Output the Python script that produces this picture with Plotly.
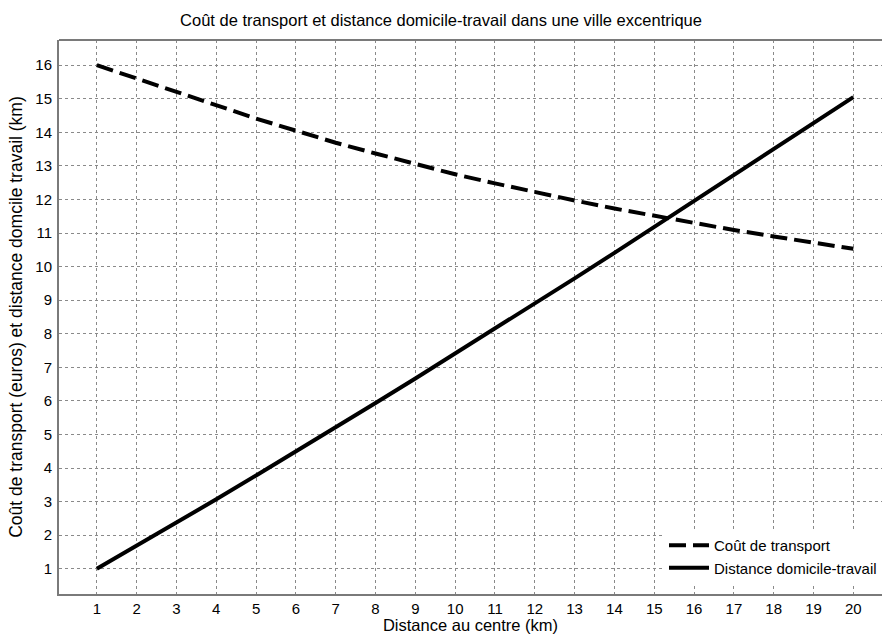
import plotly.graph_objects as go

distance_centre = list(range(1, 21))
cout_transport = [16.0, 15.60, 15.18, 14.79, 14.41, 14.05, 13.69, 13.37, 13.05, 12.75,
                  12.48, 12.21, 11.97, 11.73, 11.51, 11.29, 11.09, 10.90, 10.71, 10.53]
distance_domicile_travail = [1.00, 1.68, 2.37, 3.07, 3.78, 4.49, 5.21, 5.94, 6.67, 7.41,
                             8.15, 8.90, 9.65, 10.41, 11.18, 11.95, 12.72, 13.49, 14.27, 15.05]

FONT = "Liberation Sans, Arial, Helvetica, sans-serif"

fig = go.Figure()
fig.add_trace(go.Scatter(
    x=distance_centre, y=cout_transport, mode="lines", name="Coût de transport",
    line=dict(color="black", width=4, dash="17px,7px"),
))
fig.add_trace(go.Scatter(
    x=distance_centre, y=distance_domicile_travail, mode="lines", name="Distance domicile-travail",
    line=dict(color="black", width=4),
))

grid = dict(showgrid=True, gridcolor="#8a8a8a", griddash="dot", gridwidth=1,
            showline=True, linecolor="#7a7a7a", linewidth=2, zeroline=False,
            tickfont=dict(family=FONT, size=15, color="black"), ticks="")

fig.update_layout(
    width=882, height=634,
    margin=dict(l=59, r=0, t=40, b=40),
    paper_bgcolor="white", plot_bgcolor="white",
    font=dict(family=FONT, color="black"),
    title=dict(text="Coût de transport et distance domicile-travail dans une ville excentrique",
               x=0.5, xanchor="center", y=1 - 20 / 634, yanchor="middle", yref="container",
               font=dict(family=FONT, size=16.5, color="black")),
    xaxis=dict(range=[0.05, 20.72], tickmode="array", tickvals=distance_centre,
               title=dict(text="Distance au centre (km)", font=dict(family=FONT, size=16.5), standoff=4),
               mirror=False, **grid),
    yaxis=dict(range=[0.25, 16.75], tickmode="array", tickvals=list(range(1, 17)),
               title=dict(text="Coût de transport (euros) et distance domcile travail (km)",
                          font=dict(family=FONT, size=17.5), standoff=8),
               ticklabelstandoff=2, **grid),
    legend=dict(x=1, xanchor="right", y=0.018, yanchor="bottom",
                bgcolor="white", borderwidth=0,
                font=dict(family=FONT, size=15, color="black"),
                tracegroupgap=0, itemwidth=40),
    showlegend=True,
)
fig.add_shape(type="line", xref="paper", yref="paper", x0=0, x1=1, y0=1, y1=1,
              line=dict(color="#7a7a7a", width=2))

fig.write_html("out.html", config={"displayModeBar": False},
               post_script="document.body.style.margin='0';document.body.style.overflow='hidden';")
